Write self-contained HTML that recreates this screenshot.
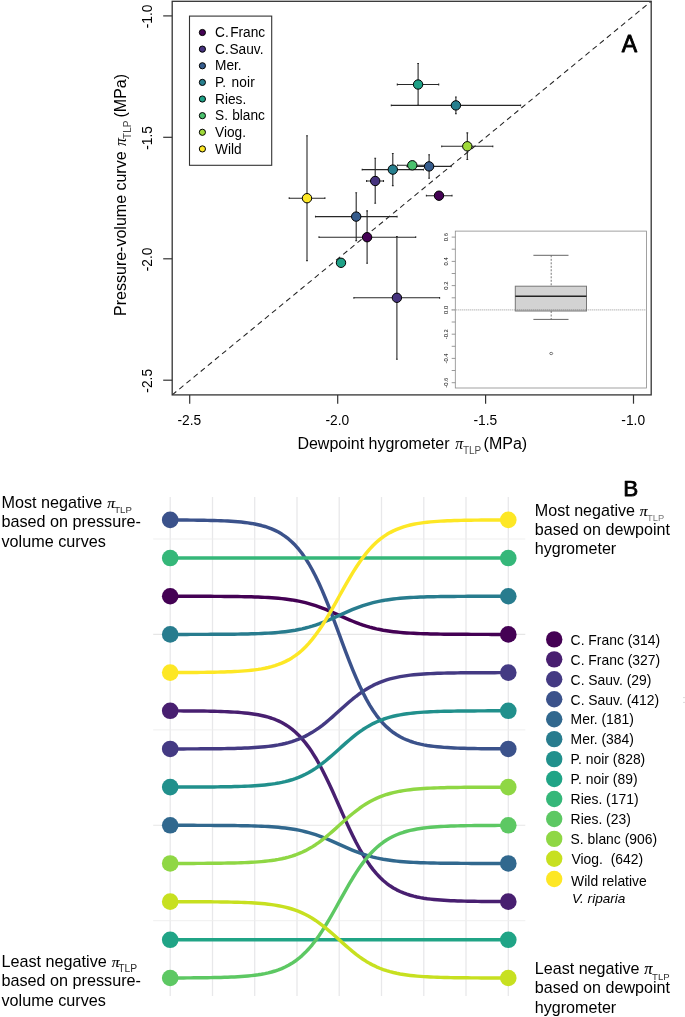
<!DOCTYPE html>
<html lang="en"><head><meta charset="utf-8"><title>Turgor loss point comparison</title>
<style>
html,body{margin:0;padding:0;background:#fff;}
body{width:685px;height:1017px;overflow:hidden;font-family:"Liberation Sans",Arial,sans-serif;}
svg{display:block;position:absolute;left:0;top:0;}
text{font-family:"Liberation Sans",Arial,sans-serif;fill:#000;}
.pi{font-family:"Liberation Serif","DejaVu Serif",serif;font-style:italic;}
.sub{font-size:10px;fill:#4a4a4a;}
.subb{font-size:10.3px;fill:#2a2a2a;}
.pib{font-family:"Liberation Serif","DejaVu Serif",serif;font-style:italic;stroke:#000;stroke-width:0.15;}
.t16b{font-size:16.2px;}
.t14{font-size:13.6px;}
.t14b{font-size:13.9px;}
.t16{font-size:16px;}
.eb{stroke:#282828;stroke-width:1.1;fill:none;}
.pt{stroke:#000;stroke-width:1;}
.grid{stroke:#e8e8ea;stroke-width:1.3;fill:none;}
.gmin{stroke:#ededed;stroke-width:0.9;fill:none;}
.gmaj{stroke:#e6e6e6;stroke-width:1.1;fill:none;}
.bump{fill:none;stroke-width:3.45;stroke-linecap:butt;stroke-linejoin:round;}
</style></head><body>
<svg width="685" height="1017" viewBox="0 0 685 1017">
<rect x="0" y="0" width="685" height="1017" fill="#fff"/>
<g id="panelA">
<line x1="172.2" y1="394.9" x2="651.2" y2="1.3" stroke="#222" stroke-width="1.05" stroke-dasharray="5.32 3.902"/>
<line x1="189.7" y1="394.9" x2="189.7" y2="403.7" stroke="#333" stroke-width="1.2"/>
<text transform="translate(189.39999999999998 425) scale(0.985 1)" font-size="14" text-anchor="middle">-2.5</text>
<line x1="337.7" y1="394.9" x2="337.7" y2="403.7" stroke="#333" stroke-width="1.2"/>
<text transform="translate(337.4 425) scale(0.985 1)" font-size="14" text-anchor="middle">-2.0</text>
<line x1="485.6" y1="394.9" x2="485.6" y2="403.7" stroke="#333" stroke-width="1.2"/>
<text transform="translate(485.3 425) scale(0.985 1)" font-size="14" text-anchor="middle">-1.5</text>
<line x1="633.5" y1="394.9" x2="633.5" y2="403.7" stroke="#333" stroke-width="1.2"/>
<text transform="translate(633.2 425) scale(0.985 1)" font-size="14" text-anchor="middle">-1.0</text>
<line x1="172.2" y1="15.9" x2="163.2" y2="15.9" stroke="#333" stroke-width="1.2"/>
<text transform="translate(152.2 16.5) rotate(-90) scale(0.985 1)" font-size="14" text-anchor="middle">-1.0</text>
<line x1="172.2" y1="137.3" x2="163.2" y2="137.3" stroke="#333" stroke-width="1.2"/>
<text transform="translate(152.2 137.9) rotate(-90) scale(0.985 1)" font-size="14" text-anchor="middle">-1.5</text>
<line x1="172.2" y1="258.8" x2="163.2" y2="258.8" stroke="#333" stroke-width="1.2"/>
<text transform="translate(152.2 259.40000000000003) rotate(-90) scale(0.985 1)" font-size="14" text-anchor="middle">-2.0</text>
<line x1="172.2" y1="380.2" x2="163.2" y2="380.2" stroke="#333" stroke-width="1.2"/>
<text transform="translate(152.2 380.8) rotate(-90) scale(0.985 1)" font-size="14" text-anchor="middle">-2.5</text>
<text class="t16" x="297.4" y="449.3">Dewpoint hygrometer <tspan class="pi" dx="1.4">π</tspan><tspan class="sub" font-size="9.5" dy="4.2" dx="-0.4">TLP</tspan><tspan dy="-4.2" dx="-2.1"> (MPa)</tspan></text>
<text class="t16" transform="translate(126.0 315.9) rotate(-90)">Pressure-volume curve <tspan class="pi" dx="0.9">π</tspan><tspan class="sub" dy="4.5" dx="-0.9">TLP</tspan><tspan dy="-4.5" dx="-1.3"> (MPa)</tspan></text>
<path class="eb" d="M289.2 198.20000000000002H324.9M289.2 197.3V199.10000000000002M324.9 197.3V199.10000000000002M307.0 135.70000000000002V260.6M306.1 135.70000000000002H307.9M306.1 260.6H307.9"/>
<path class="eb" d="M366.6 181.0H383.5M366.6 180.1V181.9M383.5 180.1V181.9M375.2 158.3V203.3M374.3 158.3H376.09999999999997M374.3 203.3H376.09999999999997"/>
<path class="eb" d="M362.2 169.60000000000002H423.5M362.2 168.70000000000002V170.50000000000003M423.5 168.70000000000002V170.50000000000003M392.8 153.5V185.60000000000002M391.90000000000003 153.5H393.7M391.90000000000003 185.60000000000002H393.7"/>
<path class="eb" d="M397.5 165.3H427.1M397.5 164.4V166.20000000000002M427.1 164.4V166.20000000000002"/>
<path class="eb" d="M407.0 166.4H451.2M407.0 165.5V167.3M451.2 165.5V167.3M429.1 154.70000000000002V178.3M428.20000000000005 154.70000000000002H430.0M428.20000000000005 178.3H430.0"/>
<path class="eb" d="M426.4 195.70000000000002H452.0M426.4 194.8V196.60000000000002M452.0 194.8V196.60000000000002"/>
<path class="eb" d="M315.5 216.60000000000002H397.1M315.5 215.70000000000002V217.50000000000003M397.1 215.70000000000002V217.50000000000003M356.2 192.8V240.60000000000002M355.3 192.8H357.09999999999997M355.3 240.60000000000002H357.09999999999997"/>
<path class="eb" d="M319.0 237.20000000000002H415.7M319.0 236.3V238.10000000000002M415.7 236.3V238.10000000000002M367.1 210.9V263.3M366.20000000000005 210.9H368.0M366.20000000000005 263.3H368.0"/>
<path class="eb" d="M353.9 297.8H439.6M353.9 296.90000000000003V298.7M439.6 296.90000000000003V298.7M396.9 236.5V359.3M396.0 236.5H397.79999999999995M396.0 359.3H397.79999999999995"/>
<path class="eb" d="M397.3 84.5H438.7M397.3 83.6V85.4M438.7 83.6V85.4M418.1 63.5V105.39999999999999M417.20000000000005 63.5H419.0M417.20000000000005 105.39999999999999H419.0"/>
<path class="eb" d="M391.3 105.39999999999999H520.6M391.3 104.49999999999999V106.3M520.6 104.49999999999999V106.3M455.9 97.0V113.8M455.0 97.0H456.79999999999995M455.0 113.8H456.79999999999995"/>
<path class="eb" d="M441.7 146.3H492.8M441.7 145.4V147.20000000000002M492.8 145.4V147.20000000000002M467.3 132.9V159.5M466.40000000000003 132.9H468.2M466.40000000000003 159.5H468.2"/>
<circle class="pt" cx="307.0" cy="198.20000000000002" r="4.7" fill="#FDE725"/>
<circle class="pt" cx="375.2" cy="181.0" r="4.7" fill="#46337E"/>
<circle class="pt" cx="392.8" cy="169.60000000000002" r="4.7" fill="#277F8E"/>
<circle class="pt" cx="412.3" cy="165.3" r="4.7" fill="#4AC16D"/>
<circle class="pt" cx="429.1" cy="166.4" r="4.7" fill="#365C8D"/>
<circle class="pt" cx="439.0" cy="195.70000000000002" r="4.7" fill="#440154"/>
<circle class="pt" cx="356.2" cy="216.60000000000002" r="4.7" fill="#365C8D"/>
<circle class="pt" cx="367.1" cy="237.20000000000002" r="4.7" fill="#440154"/>
<circle class="pt" cx="341.0" cy="262.8" r="4.7" fill="#1FA187"/>
<circle class="pt" cx="396.9" cy="297.8" r="4.7" fill="#46337E"/>
<circle class="pt" cx="418.1" cy="84.5" r="4.7" fill="#1FA187"/>
<circle class="pt" cx="455.9" cy="105.39999999999999" r="4.7" fill="#277F8E"/>
<circle class="pt" cx="467.3" cy="146.3" r="4.7" fill="#9FDA3A"/>
<rect x="189.5" y="16.1" width="82.19999999999999" height="149.20000000000002" fill="#fff" stroke="#333" stroke-width="1.1"/>
<circle cx="202.4" cy="32.50" r="3.1" fill="#440154" stroke="#000" stroke-width="1"/>
<text transform="translate(215 37.10) scale(0.972 1)" font-size="14.1">C.<tspan dx="1.5">Franc</tspan></text>
<circle cx="202.4" cy="49.13" r="3.1" fill="#46337E" stroke="#000" stroke-width="1"/>
<text transform="translate(215 53.73) scale(0.972 1)" font-size="14.1">C.<tspan dx="0.8">Sauv.</tspan></text>
<circle cx="202.4" cy="65.76" r="3.1" fill="#365C8D" stroke="#000" stroke-width="1"/>
<text transform="translate(215 70.36) scale(0.972 1)" font-size="14.1">Mer.</text>
<circle cx="202.4" cy="82.39" r="3.1" fill="#277F8E" stroke="#000" stroke-width="1"/>
<text transform="translate(215 86.99) scale(0.972 1)" font-size="14.1">P. <tspan dx="1.5" letter-spacing="0.2">noir</tspan></text>
<circle cx="202.4" cy="99.02" r="3.1" fill="#1FA187" stroke="#000" stroke-width="1"/>
<text transform="translate(215 103.62) scale(0.972 1)" font-size="14.1">Ries.</text>
<circle cx="202.4" cy="115.65" r="3.1" fill="#4AC16D" stroke="#000" stroke-width="1"/>
<text transform="translate(215 120.25) scale(0.972 1)" font-size="14.1">S. <tspan dx="0.4">blanc</tspan></text>
<circle cx="202.4" cy="132.28" r="3.1" fill="#9FDA3A" stroke="#000" stroke-width="1"/>
<text transform="translate(215 136.88) scale(0.972 1)" font-size="14.1">Viog.</text>
<circle cx="202.4" cy="148.91" r="3.1" fill="#FDE725" stroke="#000" stroke-width="1"/>
<text transform="translate(215 153.51) scale(0.972 1)" font-size="14.1">Wild</text>
<text x="621.8" y="51.5" font-size="23.1" stroke="#000" stroke-width="0.8" stroke-linejoin="round">A</text>
<rect x="455.3" y="231.1" width="191.3" height="156.9" fill="#fff" stroke="#8a8a8a" stroke-width="0.8"/>
<line x1="455.3" y1="382.7" x2="451.7" y2="382.7" stroke="#808080" stroke-width="0.8"/>
<text transform="translate(447.8 382.7) rotate(-90)" text-anchor="middle" font-size="5.8" fill="#444">-0.6</text>
<line x1="455.3" y1="370.5" x2="451.7" y2="370.5" stroke="#808080" stroke-width="0.8"/>
<line x1="455.3" y1="358.4" x2="451.7" y2="358.4" stroke="#808080" stroke-width="0.8"/>
<text transform="translate(447.8 358.4) rotate(-90)" text-anchor="middle" font-size="5.8" fill="#444">-0.4</text>
<line x1="455.3" y1="346.3" x2="451.7" y2="346.3" stroke="#808080" stroke-width="0.8"/>
<line x1="455.3" y1="334.2" x2="451.7" y2="334.2" stroke="#808080" stroke-width="0.8"/>
<text transform="translate(447.8 334.2) rotate(-90)" text-anchor="middle" font-size="5.8" fill="#444">-0.2</text>
<line x1="455.3" y1="322.0" x2="451.7" y2="322.0" stroke="#808080" stroke-width="0.8"/>
<line x1="455.3" y1="309.9" x2="451.7" y2="309.9" stroke="#808080" stroke-width="0.8"/>
<text transform="translate(447.8 309.9) rotate(-90)" text-anchor="middle" font-size="5.8" fill="#444">0.0</text>
<line x1="455.3" y1="297.8" x2="451.7" y2="297.8" stroke="#808080" stroke-width="0.8"/>
<line x1="455.3" y1="285.6" x2="451.7" y2="285.6" stroke="#808080" stroke-width="0.8"/>
<text transform="translate(447.8 285.6) rotate(-90)" text-anchor="middle" font-size="5.8" fill="#444">0.2</text>
<line x1="455.3" y1="273.5" x2="451.7" y2="273.5" stroke="#808080" stroke-width="0.8"/>
<line x1="455.3" y1="261.4" x2="451.7" y2="261.4" stroke="#808080" stroke-width="0.8"/>
<text transform="translate(447.8 261.4) rotate(-90)" text-anchor="middle" font-size="5.8" fill="#444">0.4</text>
<line x1="455.3" y1="249.2" x2="451.7" y2="249.2" stroke="#808080" stroke-width="0.8"/>
<line x1="455.3" y1="237.1" x2="451.7" y2="237.1" stroke="#808080" stroke-width="0.8"/>
<text transform="translate(447.8 237.1) rotate(-90)" text-anchor="middle" font-size="5.8" fill="#444">0.6</text>
<line x1="451.7" y1="309.9" x2="646.6" y2="309.9" stroke="#aaa" stroke-width="1.2" stroke-dasharray="1 1"/>
<line x1="551.2" y1="255.3" x2="551.2" y2="286.2" stroke="#777" stroke-width="1" stroke-dasharray="2 1.5"/>
<line x1="551.2" y1="311" x2="551.2" y2="319.4" stroke="#777" stroke-width="1" stroke-dasharray="2 1.5"/>
<line x1="533.4" y1="255.3" x2="568.5" y2="255.3" stroke="#666" stroke-width="1"/>
<line x1="533.4" y1="319.4" x2="568.5" y2="319.4" stroke="#666" stroke-width="1"/>
<rect x="515.3" y="286.2" width="71.20000000000005" height="24.80000000000001" fill="#d3d3d3" stroke="#777" stroke-width="1"/>
<line x1="515.3" y1="296.2" x2="586.5" y2="296.2" stroke="#222" stroke-width="1.6"/>
<line x1="515.3" y1="309.9" x2="586.5" y2="309.9" stroke="#888" stroke-width="1.2" stroke-dasharray="1 1"/>
<ellipse cx="551.2" cy="353.5" rx="1.5" ry="1.15" fill="none" stroke="#444" stroke-width="0.7"/>
<rect x="172.2" y="1.3" width="479.00000000000006" height="393.59999999999997" fill="none" stroke="#333" stroke-width="1.3"/>
</g>
<g id="panelB">
<line class="grid" x1="170.2" y1="497.0" x2="170.2" y2="996.0"/>
<line class="grid" x1="212.5" y1="497.0" x2="212.5" y2="996.0"/>
<line class="grid" x1="254.7" y1="497.0" x2="254.7" y2="996.0"/>
<line class="grid" x1="297.0" y1="497.0" x2="297.0" y2="996.0"/>
<line class="grid" x1="339.2" y1="497.0" x2="339.2" y2="996.0"/>
<line class="grid" x1="381.5" y1="497.0" x2="381.5" y2="996.0"/>
<line class="grid" x1="423.8" y1="497.0" x2="423.8" y2="996.0"/>
<line class="grid" x1="466.0" y1="497.0" x2="466.0" y2="996.0"/>
<line class="grid" x1="508.3" y1="497.0" x2="508.3" y2="996.0"/>
<line class="gmin" x1="153.2" y1="539.0" x2="525.3" y2="539.0"/>
<line class="gmaj" x1="153.2" y1="634.4" x2="525.3" y2="634.4"/>
<line class="gmin" x1="153.2" y1="729.9" x2="525.3" y2="729.9"/>
<line class="gmaj" x1="153.2" y1="825.3" x2="525.3" y2="825.3"/>
<line class="gmin" x1="153.2" y1="920.7" x2="525.3" y2="920.7"/>
<path class="bump" stroke="#440154" d="M170.20 596.26 L173.58 596.27 L176.96 596.27 L180.34 596.27 L183.72 596.27 L187.10 596.28 L190.49 596.28 L193.87 596.29 L197.25 596.30 L200.63 596.30 L204.01 596.31 L207.39 596.32 L210.77 596.34 L214.15 596.35 L217.53 596.37 L220.91 596.39 L224.30 596.41 L227.68 596.44 L231.06 596.48 L234.44 596.52 L237.82 596.56 L241.20 596.62 L244.58 596.68 L247.96 596.75 L251.34 596.84 L254.72 596.94 L258.11 597.05 L261.49 597.19 L264.87 597.35 L268.25 597.53 L271.63 597.75 L275.01 597.99 L278.39 598.28 L281.77 598.61 L285.15 598.99 L288.53 599.43 L291.92 599.92 L295.30 600.49 L298.68 601.13 L302.06 601.85 L305.44 602.66 L308.82 603.56 L312.20 604.55 L315.58 605.64 L318.96 606.82 L322.35 608.09 L325.73 609.43 L329.11 610.84 L332.49 612.31 L335.87 613.81 L339.25 615.34 L342.63 616.86 L346.01 618.37 L349.39 619.83 L352.77 621.25 L356.16 622.59 L359.54 623.86 L362.92 625.03 L366.30 626.12 L369.68 627.11 L373.06 628.01 L376.44 628.82 L379.82 629.54 L383.20 630.19 L386.58 630.75 L389.97 631.25 L393.35 631.69 L396.73 632.07 L400.11 632.40 L403.49 632.68 L406.87 632.93 L410.25 633.14 L413.63 633.33 L417.01 633.49 L420.39 633.62 L423.77 633.74 L427.16 633.84 L430.54 633.92 L433.92 634.00 L437.30 634.06 L440.68 634.11 L444.06 634.16 L447.44 634.20 L450.82 634.23 L454.20 634.26 L457.58 634.28 L460.97 634.31 L464.35 634.32 L467.73 634.34 L471.11 634.35 L474.49 634.36 L477.87 634.37 L481.25 634.38 L484.63 634.39 L488.01 634.39 L491.39 634.40 L494.78 634.40 L498.16 634.40 L501.54 634.41 L504.92 634.41 L508.30 634.41"/>
<path class="bump" stroke="#481F70" d="M170.20 710.84 L173.58 710.85 L176.96 710.86 L180.34 710.88 L183.72 710.90 L187.10 710.92 L190.49 710.94 L193.87 710.97 L197.25 711.01 L200.63 711.04 L204.01 711.09 L207.39 711.15 L210.77 711.21 L214.15 711.29 L217.53 711.37 L220.91 711.48 L224.30 711.60 L227.68 711.74 L231.06 711.91 L234.44 712.10 L237.82 712.33 L241.20 712.60 L244.58 712.91 L247.96 713.28 L251.34 713.71 L254.72 714.21 L258.11 714.79 L261.49 715.47 L264.87 716.26 L268.25 717.18 L271.63 718.25 L275.01 719.49 L278.39 720.92 L281.77 722.57 L285.15 724.47 L288.53 726.65 L291.92 729.14 L295.30 731.97 L298.68 735.18 L302.06 738.79 L305.44 742.84 L308.82 747.34 L312.20 752.30 L315.58 757.73 L318.96 763.62 L322.35 769.95 L325.73 776.67 L329.11 783.74 L332.49 791.07 L335.87 798.59 L339.25 806.21 L342.63 813.83 L346.01 821.35 L349.39 828.69 L352.77 835.75 L356.16 842.47 L359.54 848.80 L362.92 854.69 L366.30 860.13 L369.68 865.09 L373.06 869.59 L376.44 873.63 L379.82 877.24 L383.20 880.45 L386.58 883.28 L389.97 885.77 L393.35 887.95 L396.73 889.85 L400.11 891.50 L403.49 892.94 L406.87 894.17 L410.25 895.24 L413.63 896.16 L417.01 896.95 L420.39 897.63 L423.77 898.22 L427.16 898.72 L430.54 899.14 L433.92 899.51 L437.30 899.82 L440.68 900.09 L444.06 900.32 L447.44 900.52 L450.82 900.68 L454.20 900.83 L457.58 900.95 L460.97 901.05 L464.35 901.14 L467.73 901.21 L471.11 901.28 L474.49 901.33 L477.87 901.38 L481.25 901.42 L484.63 901.45 L488.01 901.48 L491.39 901.51 L494.78 901.53 L498.16 901.55 L501.54 901.56 L504.92 901.57 L508.30 901.59"/>
<path class="bump" stroke="#443A83" d="M170.20 748.92 L173.58 748.92 L176.96 748.91 L180.34 748.91 L183.72 748.90 L187.10 748.89 L190.49 748.88 L193.87 748.87 L197.25 748.86 L200.63 748.84 L204.01 748.82 L207.39 748.80 L210.77 748.78 L214.15 748.75 L217.53 748.71 L220.91 748.67 L224.30 748.62 L227.68 748.56 L231.06 748.50 L234.44 748.42 L237.82 748.33 L241.20 748.22 L244.58 748.09 L247.96 747.95 L251.34 747.78 L254.72 747.58 L258.11 747.34 L261.49 747.07 L264.87 746.76 L268.25 746.39 L271.63 745.96 L275.01 745.46 L278.39 744.89 L281.77 744.23 L285.15 743.47 L288.53 742.60 L291.92 741.60 L295.30 740.47 L298.68 739.19 L302.06 737.74 L305.44 736.12 L308.82 734.33 L312.20 732.34 L315.58 730.17 L318.96 727.81 L322.35 725.28 L325.73 722.59 L329.11 719.77 L332.49 716.83 L335.87 713.82 L339.25 710.77 L342.63 707.73 L346.01 704.72 L349.39 701.78 L352.77 698.96 L356.16 696.27 L359.54 693.74 L362.92 691.38 L366.30 689.21 L369.68 687.22 L373.06 685.43 L376.44 683.81 L379.82 682.36 L383.20 681.08 L386.58 679.95 L389.97 678.95 L393.35 678.08 L396.73 677.32 L400.11 676.66 L403.49 676.09 L406.87 675.59 L410.25 675.16 L413.63 674.79 L417.01 674.48 L420.39 674.21 L423.77 673.97 L427.16 673.77 L430.54 673.60 L433.92 673.46 L437.30 673.33 L440.68 673.22 L444.06 673.13 L447.44 673.05 L450.82 672.99 L454.20 672.93 L457.58 672.88 L460.97 672.84 L464.35 672.80 L467.73 672.77 L471.11 672.75 L474.49 672.73 L477.87 672.71 L481.25 672.69 L484.63 672.68 L488.01 672.67 L491.39 672.66 L494.78 672.65 L498.16 672.64 L501.54 672.64 L504.92 672.63 L508.30 672.63"/>
<path class="bump" stroke="#3B528B" d="M170.20 519.98 L173.58 519.99 L176.96 520.01 L180.34 520.02 L183.72 520.05 L187.10 520.07 L190.49 520.10 L193.87 520.14 L197.25 520.18 L200.63 520.22 L204.01 520.28 L207.39 520.35 L210.77 520.42 L214.15 520.51 L217.53 520.62 L220.91 520.74 L224.30 520.89 L227.68 521.06 L231.06 521.26 L234.44 521.50 L237.82 521.77 L241.20 522.09 L244.58 522.47 L247.96 522.91 L251.34 523.42 L254.72 524.02 L258.11 524.72 L261.49 525.54 L264.87 526.48 L268.25 527.59 L271.63 528.87 L275.01 530.36 L278.39 532.07 L281.77 534.06 L285.15 536.34 L288.53 538.95 L291.92 541.94 L295.30 545.34 L298.68 549.19 L302.06 553.52 L305.44 558.38 L308.82 563.77 L312.20 569.73 L315.58 576.25 L318.96 583.32 L322.35 590.91 L325.73 598.98 L329.11 607.45 L332.49 616.26 L335.87 625.28 L339.25 634.42 L342.63 643.57 L346.01 652.59 L349.39 661.40 L352.77 669.87 L356.16 677.94 L359.54 685.53 L362.92 692.60 L366.30 699.12 L369.68 705.08 L373.06 710.47 L376.44 715.33 L379.82 719.66 L383.20 723.51 L386.58 726.91 L389.97 729.90 L393.35 732.51 L396.73 734.79 L400.11 736.78 L403.49 738.49 L406.87 739.98 L410.25 741.26 L413.63 742.37 L417.01 743.31 L420.39 744.13 L423.77 744.83 L427.16 745.43 L430.54 745.94 L433.92 746.38 L437.30 746.76 L440.68 747.08 L444.06 747.35 L447.44 747.59 L450.82 747.79 L454.20 747.96 L457.58 748.11 L460.97 748.23 L464.35 748.34 L467.73 748.43 L471.11 748.50 L474.49 748.57 L477.87 748.63 L481.25 748.67 L484.63 748.71 L488.01 748.75 L491.39 748.78 L494.78 748.80 L498.16 748.83 L501.54 748.84 L504.92 748.86 L508.30 748.87"/>
<path class="bump" stroke="#31688E" d="M170.20 825.31 L173.58 825.32 L176.96 825.32 L180.34 825.32 L183.72 825.32 L187.10 825.33 L190.49 825.33 L193.87 825.34 L197.25 825.35 L200.63 825.35 L204.01 825.36 L207.39 825.37 L210.77 825.39 L214.15 825.40 L217.53 825.42 L220.91 825.44 L224.30 825.46 L227.68 825.49 L231.06 825.53 L234.44 825.57 L237.82 825.61 L241.20 825.67 L244.58 825.73 L247.96 825.80 L251.34 825.89 L254.72 825.99 L258.11 826.10 L261.49 826.24 L264.87 826.40 L268.25 826.58 L271.63 826.80 L275.01 827.04 L278.39 827.33 L281.77 827.66 L285.15 828.04 L288.53 828.48 L291.92 828.97 L295.30 829.54 L298.68 830.18 L302.06 830.90 L305.44 831.71 L308.82 832.61 L312.20 833.60 L315.58 834.69 L318.96 835.87 L322.35 837.14 L325.73 838.48 L329.11 839.89 L332.49 841.36 L335.87 842.86 L339.25 844.39 L342.63 845.91 L346.01 847.42 L349.39 848.88 L352.77 850.30 L356.16 851.64 L359.54 852.91 L362.92 854.08 L366.30 855.17 L369.68 856.16 L373.06 857.06 L376.44 857.87 L379.82 858.59 L383.20 859.24 L386.58 859.80 L389.97 860.30 L393.35 860.74 L396.73 861.12 L400.11 861.45 L403.49 861.73 L406.87 861.98 L410.25 862.19 L413.63 862.38 L417.01 862.54 L420.39 862.67 L423.77 862.79 L427.16 862.89 L430.54 862.97 L433.92 863.05 L437.30 863.11 L440.68 863.16 L444.06 863.21 L447.44 863.25 L450.82 863.28 L454.20 863.31 L457.58 863.33 L460.97 863.36 L464.35 863.37 L467.73 863.39 L471.11 863.40 L474.49 863.41 L477.87 863.42 L481.25 863.43 L484.63 863.44 L488.01 863.44 L491.39 863.45 L494.78 863.45 L498.16 863.45 L501.54 863.46 L504.92 863.46 L508.30 863.46"/>
<path class="bump" stroke="#287C8E" d="M170.20 634.41 L173.58 634.41 L176.96 634.41 L180.34 634.40 L183.72 634.40 L187.10 634.40 L190.49 634.39 L193.87 634.39 L197.25 634.38 L200.63 634.37 L204.01 634.36 L207.39 634.35 L210.77 634.34 L214.15 634.32 L217.53 634.31 L220.91 634.28 L224.30 634.26 L227.68 634.23 L231.06 634.20 L234.44 634.16 L237.82 634.11 L241.20 634.06 L244.58 634.00 L247.96 633.92 L251.34 633.84 L254.72 633.74 L258.11 633.62 L261.49 633.49 L264.87 633.33 L268.25 633.14 L271.63 632.93 L275.01 632.68 L278.39 632.40 L281.77 632.07 L285.15 631.69 L288.53 631.25 L291.92 630.75 L295.30 630.19 L298.68 629.54 L302.06 628.82 L305.44 628.01 L308.82 627.11 L312.20 626.12 L315.58 625.03 L318.96 623.86 L322.35 622.59 L325.73 621.25 L329.11 619.83 L332.49 618.37 L335.87 616.86 L339.25 615.34 L342.63 613.81 L346.01 612.31 L349.39 610.84 L352.77 609.43 L356.16 608.09 L359.54 606.82 L362.92 605.64 L366.30 604.55 L369.68 603.56 L373.06 602.66 L376.44 601.85 L379.82 601.13 L383.20 600.49 L386.58 599.92 L389.97 599.43 L393.35 598.99 L396.73 598.61 L400.11 598.28 L403.49 597.99 L406.87 597.75 L410.25 597.53 L413.63 597.35 L417.01 597.19 L420.39 597.05 L423.77 596.94 L427.16 596.84 L430.54 596.75 L433.92 596.68 L437.30 596.62 L440.68 596.56 L444.06 596.52 L447.44 596.48 L450.82 596.44 L454.20 596.41 L457.58 596.39 L460.97 596.37 L464.35 596.35 L467.73 596.34 L471.11 596.32 L474.49 596.31 L477.87 596.30 L481.25 596.30 L484.63 596.29 L488.01 596.28 L491.39 596.28 L494.78 596.27 L498.16 596.27 L501.54 596.27 L504.92 596.27 L508.30 596.26"/>
<path class="bump" stroke="#21908C" d="M170.20 787.10 L173.58 787.09 L176.96 787.09 L180.34 787.08 L183.72 787.08 L187.10 787.07 L190.49 787.06 L193.87 787.05 L197.25 787.03 L200.63 787.02 L204.01 787.00 L207.39 786.98 L210.77 786.95 L214.15 786.92 L217.53 786.89 L220.91 786.84 L224.30 786.80 L227.68 786.74 L231.06 786.67 L234.44 786.59 L237.82 786.50 L241.20 786.39 L244.58 786.27 L247.96 786.12 L251.34 785.95 L254.72 785.75 L258.11 785.52 L261.49 785.25 L264.87 784.93 L268.25 784.56 L271.63 784.13 L275.01 783.64 L278.39 783.07 L281.77 782.41 L285.15 781.65 L288.53 780.77 L291.92 779.78 L295.30 778.65 L298.68 777.36 L302.06 775.92 L305.44 774.30 L308.82 772.50 L312.20 770.52 L315.58 768.34 L318.96 765.99 L322.35 763.45 L325.73 760.77 L329.11 757.94 L332.49 755.01 L335.87 752.00 L339.25 748.95 L342.63 745.90 L346.01 742.89 L349.39 739.96 L352.77 737.13 L356.16 734.45 L359.54 731.91 L362.92 729.56 L366.30 727.38 L369.68 725.40 L373.06 723.60 L376.44 721.98 L379.82 720.54 L383.20 719.25 L386.58 718.12 L389.97 717.13 L393.35 716.25 L396.73 715.49 L400.11 714.83 L403.49 714.26 L406.87 713.77 L410.25 713.34 L413.63 712.97 L417.01 712.65 L420.39 712.38 L423.77 712.15 L427.16 711.95 L430.54 711.78 L433.92 711.63 L437.30 711.51 L440.68 711.40 L444.06 711.31 L447.44 711.23 L450.82 711.16 L454.20 711.10 L457.58 711.06 L460.97 711.01 L464.35 710.98 L467.73 710.95 L471.11 710.92 L474.49 710.90 L477.87 710.88 L481.25 710.87 L484.63 710.85 L488.01 710.84 L491.39 710.83 L494.78 710.82 L498.16 710.82 L501.54 710.81 L504.92 710.81 L508.30 710.80"/>
<path class="bump" stroke="#20A486" d="M170.20 939.82 L173.58 939.82 L176.96 939.82 L180.34 939.82 L183.72 939.82 L187.10 939.82 L190.49 939.82 L193.87 939.82 L197.25 939.82 L200.63 939.82 L204.01 939.82 L207.39 939.82 L210.77 939.82 L214.15 939.82 L217.53 939.82 L220.91 939.82 L224.30 939.82 L227.68 939.82 L231.06 939.82 L234.44 939.82 L237.82 939.82 L241.20 939.82 L244.58 939.82 L247.96 939.82 L251.34 939.82 L254.72 939.82 L258.11 939.82 L261.49 939.82 L264.87 939.82 L268.25 939.82 L271.63 939.82 L275.01 939.82 L278.39 939.82 L281.77 939.82 L285.15 939.82 L288.53 939.82 L291.92 939.82 L295.30 939.82 L298.68 939.82 L302.06 939.82 L305.44 939.82 L308.82 939.82 L312.20 939.82 L315.58 939.82 L318.96 939.82 L322.35 939.82 L325.73 939.82 L329.11 939.82 L332.49 939.82 L335.87 939.82 L339.25 939.82 L342.63 939.82 L346.01 939.82 L349.39 939.82 L352.77 939.82 L356.16 939.82 L359.54 939.82 L362.92 939.82 L366.30 939.82 L369.68 939.82 L373.06 939.82 L376.44 939.82 L379.82 939.82 L383.20 939.82 L386.58 939.82 L389.97 939.82 L393.35 939.82 L396.73 939.82 L400.11 939.82 L403.49 939.82 L406.87 939.82 L410.25 939.82 L413.63 939.82 L417.01 939.82 L420.39 939.82 L423.77 939.82 L427.16 939.82 L430.54 939.82 L433.92 939.82 L437.30 939.82 L440.68 939.82 L444.06 939.82 L447.44 939.82 L450.82 939.82 L454.20 939.82 L457.58 939.82 L460.97 939.82 L464.35 939.82 L467.73 939.82 L471.11 939.82 L474.49 939.82 L477.87 939.82 L481.25 939.82 L484.63 939.82 L488.01 939.82 L491.39 939.82 L494.78 939.82 L498.16 939.82 L501.54 939.82 L504.92 939.82 L508.30 939.82"/>
<path class="bump" stroke="#35B779" d="M170.20 558.07 L173.58 558.07 L176.96 558.07 L180.34 558.07 L183.72 558.07 L187.10 558.07 L190.49 558.07 L193.87 558.07 L197.25 558.07 L200.63 558.07 L204.01 558.07 L207.39 558.07 L210.77 558.07 L214.15 558.07 L217.53 558.07 L220.91 558.07 L224.30 558.07 L227.68 558.07 L231.06 558.07 L234.44 558.07 L237.82 558.07 L241.20 558.07 L244.58 558.07 L247.96 558.07 L251.34 558.07 L254.72 558.07 L258.11 558.07 L261.49 558.07 L264.87 558.07 L268.25 558.07 L271.63 558.07 L275.01 558.07 L278.39 558.07 L281.77 558.07 L285.15 558.07 L288.53 558.07 L291.92 558.07 L295.30 558.07 L298.68 558.07 L302.06 558.07 L305.44 558.07 L308.82 558.07 L312.20 558.07 L315.58 558.07 L318.96 558.07 L322.35 558.07 L325.73 558.07 L329.11 558.07 L332.49 558.07 L335.87 558.07 L339.25 558.07 L342.63 558.07 L346.01 558.07 L349.39 558.07 L352.77 558.07 L356.16 558.07 L359.54 558.07 L362.92 558.07 L366.30 558.07 L369.68 558.07 L373.06 558.07 L376.44 558.07 L379.82 558.07 L383.20 558.07 L386.58 558.07 L389.97 558.07 L393.35 558.07 L396.73 558.07 L400.11 558.07 L403.49 558.07 L406.87 558.07 L410.25 558.07 L413.63 558.07 L417.01 558.07 L420.39 558.07 L423.77 558.07 L427.16 558.07 L430.54 558.07 L433.92 558.07 L437.30 558.07 L440.68 558.07 L444.06 558.07 L447.44 558.07 L450.82 558.07 L454.20 558.07 L457.58 558.07 L460.97 558.07 L464.35 558.07 L467.73 558.07 L471.11 558.07 L474.49 558.07 L477.87 558.07 L481.25 558.07 L484.63 558.07 L488.01 558.07 L491.39 558.07 L494.78 558.07 L498.16 558.07 L501.54 558.07 L504.92 558.07 L508.30 558.07"/>
<path class="bump" stroke="#5DC863" d="M170.20 977.95 L173.58 977.94 L176.96 977.93 L180.34 977.92 L183.72 977.90 L187.10 977.89 L190.49 977.87 L193.87 977.84 L197.25 977.82 L200.63 977.78 L204.01 977.75 L207.39 977.70 L210.77 977.65 L214.15 977.59 L217.53 977.52 L220.91 977.44 L224.30 977.34 L227.68 977.23 L231.06 977.09 L234.44 976.94 L237.82 976.75 L241.20 976.54 L244.58 976.29 L247.96 976.00 L251.34 975.65 L254.72 975.25 L258.11 974.79 L261.49 974.24 L264.87 973.61 L268.25 972.87 L271.63 972.02 L275.01 971.03 L278.39 969.88 L281.77 968.56 L285.15 967.04 L288.53 965.30 L291.92 963.31 L295.30 961.04 L298.68 958.48 L302.06 955.59 L305.44 952.35 L308.82 948.75 L312.20 944.78 L315.58 940.43 L318.96 935.72 L322.35 930.66 L325.73 925.28 L329.11 919.63 L332.49 913.76 L335.87 907.75 L339.25 901.65 L342.63 895.55 L346.01 889.54 L349.39 883.67 L352.77 878.02 L356.16 872.64 L359.54 867.58 L362.92 862.87 L366.30 858.52 L369.68 854.55 L373.06 850.95 L376.44 847.71 L379.82 844.82 L383.20 842.26 L386.58 839.99 L389.97 838.00 L393.35 836.26 L396.73 834.74 L400.11 833.42 L403.49 832.27 L406.87 831.28 L410.25 830.43 L413.63 829.69 L417.01 829.06 L420.39 828.51 L423.77 828.05 L427.16 827.65 L430.54 827.30 L433.92 827.01 L437.30 826.76 L440.68 826.55 L444.06 826.36 L447.44 826.21 L450.82 826.07 L454.20 825.96 L457.58 825.86 L460.97 825.78 L464.35 825.71 L467.73 825.65 L471.11 825.60 L474.49 825.55 L477.87 825.52 L481.25 825.48 L484.63 825.46 L488.01 825.43 L491.39 825.41 L494.78 825.40 L498.16 825.38 L501.54 825.37 L504.92 825.36 L508.30 825.35"/>
<path class="bump" stroke="#8FD744" d="M170.20 863.45 L173.58 863.44 L176.96 863.44 L180.34 863.43 L183.72 863.43 L187.10 863.42 L190.49 863.41 L193.87 863.40 L197.25 863.38 L200.63 863.37 L204.01 863.35 L207.39 863.33 L210.77 863.30 L214.15 863.27 L217.53 863.24 L220.91 863.19 L224.30 863.15 L227.68 863.09 L231.06 863.02 L234.44 862.94 L237.82 862.85 L241.20 862.74 L244.58 862.62 L247.96 862.47 L251.34 862.30 L254.72 862.10 L258.11 861.87 L261.49 861.60 L264.87 861.28 L268.25 860.91 L271.63 860.48 L275.01 859.99 L278.39 859.42 L281.77 858.76 L285.15 858.00 L288.53 857.12 L291.92 856.13 L295.30 855.00 L298.68 853.71 L302.06 852.27 L305.44 850.65 L308.82 848.85 L312.20 846.87 L315.58 844.69 L318.96 842.34 L322.35 839.80 L325.73 837.12 L329.11 834.29 L332.49 831.36 L335.87 828.35 L339.25 825.30 L342.63 822.25 L346.01 819.24 L349.39 816.31 L352.77 813.48 L356.16 810.80 L359.54 808.26 L362.92 805.91 L366.30 803.73 L369.68 801.75 L373.06 799.95 L376.44 798.33 L379.82 796.89 L383.20 795.60 L386.58 794.47 L389.97 793.48 L393.35 792.60 L396.73 791.84 L400.11 791.18 L403.49 790.61 L406.87 790.12 L410.25 789.69 L413.63 789.32 L417.01 789.00 L420.39 788.73 L423.77 788.50 L427.16 788.30 L430.54 788.13 L433.92 787.98 L437.30 787.86 L440.68 787.75 L444.06 787.66 L447.44 787.58 L450.82 787.51 L454.20 787.45 L457.58 787.41 L460.97 787.36 L464.35 787.33 L467.73 787.30 L471.11 787.27 L474.49 787.25 L477.87 787.23 L481.25 787.22 L484.63 787.20 L488.01 787.19 L491.39 787.18 L494.78 787.17 L498.16 787.17 L501.54 787.16 L504.92 787.16 L508.30 787.15"/>
<path class="bump" stroke="#C7E020" d="M170.20 901.68 L173.58 901.68 L176.96 901.69 L180.34 901.69 L183.72 901.70 L187.10 901.71 L190.49 901.72 L193.87 901.73 L197.25 901.74 L200.63 901.76 L204.01 901.78 L207.39 901.80 L210.77 901.82 L214.15 901.85 L217.53 901.89 L220.91 901.93 L224.30 901.98 L227.68 902.04 L231.06 902.10 L234.44 902.18 L237.82 902.27 L241.20 902.38 L244.58 902.51 L247.96 902.65 L251.34 902.82 L254.72 903.02 L258.11 903.26 L261.49 903.53 L264.87 903.84 L268.25 904.21 L271.63 904.64 L275.01 905.14 L278.39 905.71 L281.77 906.37 L285.15 907.13 L288.53 908.00 L291.92 909.00 L295.30 910.13 L298.68 911.41 L302.06 912.86 L305.44 914.48 L308.82 916.27 L312.20 918.26 L315.58 920.43 L318.96 922.79 L322.35 925.32 L325.73 928.01 L329.11 930.83 L332.49 933.77 L335.87 936.78 L339.25 939.83 L342.63 942.87 L346.01 945.88 L349.39 948.82 L352.77 951.64 L356.16 954.33 L359.54 956.86 L362.92 959.22 L366.30 961.39 L369.68 963.38 L373.06 965.17 L376.44 966.79 L379.82 968.24 L383.20 969.52 L386.58 970.65 L389.97 971.65 L393.35 972.52 L396.73 973.28 L400.11 973.94 L403.49 974.51 L406.87 975.01 L410.25 975.44 L413.63 975.81 L417.01 976.12 L420.39 976.39 L423.77 976.63 L427.16 976.83 L430.54 977.00 L433.92 977.14 L437.30 977.27 L440.68 977.38 L444.06 977.47 L447.44 977.55 L450.82 977.61 L454.20 977.67 L457.58 977.72 L460.97 977.76 L464.35 977.80 L467.73 977.83 L471.11 977.85 L474.49 977.87 L477.87 977.89 L481.25 977.91 L484.63 977.92 L488.01 977.93 L491.39 977.94 L494.78 977.95 L498.16 977.96 L501.54 977.96 L504.92 977.97 L508.30 977.97"/>
<path class="bump" stroke="#FDE725" d="M170.20 672.55 L173.58 672.54 L176.96 672.53 L180.34 672.52 L183.72 672.50 L187.10 672.49 L190.49 672.47 L193.87 672.44 L197.25 672.42 L200.63 672.38 L204.01 672.35 L207.39 672.30 L210.77 672.25 L214.15 672.19 L217.53 672.12 L220.91 672.04 L224.30 671.94 L227.68 671.83 L231.06 671.69 L234.44 671.54 L237.82 671.35 L241.20 671.14 L244.58 670.89 L247.96 670.60 L251.34 670.25 L254.72 669.85 L258.11 669.39 L261.49 668.84 L264.87 668.21 L268.25 667.47 L271.63 666.62 L275.01 665.63 L278.39 664.48 L281.77 663.16 L285.15 661.64 L288.53 659.90 L291.92 657.91 L295.30 655.64 L298.68 653.08 L302.06 650.19 L305.44 646.95 L308.82 643.35 L312.20 639.38 L315.58 635.03 L318.96 630.32 L322.35 625.26 L325.73 619.88 L329.11 614.23 L332.49 608.36 L335.87 602.35 L339.25 596.25 L342.63 590.15 L346.01 584.14 L349.39 578.27 L352.77 572.62 L356.16 567.24 L359.54 562.18 L362.92 557.47 L366.30 553.12 L369.68 549.15 L373.06 545.55 L376.44 542.31 L379.82 539.42 L383.20 536.86 L386.58 534.59 L389.97 532.60 L393.35 530.86 L396.73 529.34 L400.11 528.02 L403.49 526.87 L406.87 525.88 L410.25 525.03 L413.63 524.29 L417.01 523.66 L420.39 523.11 L423.77 522.65 L427.16 522.25 L430.54 521.90 L433.92 521.61 L437.30 521.36 L440.68 521.15 L444.06 520.96 L447.44 520.81 L450.82 520.67 L454.20 520.56 L457.58 520.46 L460.97 520.38 L464.35 520.31 L467.73 520.25 L471.11 520.20 L474.49 520.15 L477.87 520.12 L481.25 520.08 L484.63 520.06 L488.01 520.03 L491.39 520.01 L494.78 520.00 L498.16 519.98 L501.54 519.97 L504.92 519.96 L508.30 519.95"/>
<circle cx="170.2" cy="596.25" r="8.3" fill="#440154"/>
<circle cx="508.3" cy="634.42" r="8.3" fill="#440154"/>
<circle cx="170.2" cy="710.77" r="8.3" fill="#481F70"/>
<circle cx="508.3" cy="901.65" r="8.3" fill="#481F70"/>
<circle cx="170.2" cy="748.95" r="8.3" fill="#443A83"/>
<circle cx="508.3" cy="672.60" r="8.3" fill="#443A83"/>
<circle cx="170.2" cy="519.90" r="8.3" fill="#3B528B"/>
<circle cx="508.3" cy="748.95" r="8.3" fill="#3B528B"/>
<circle cx="170.2" cy="825.30" r="8.3" fill="#31688E"/>
<circle cx="508.3" cy="863.47" r="8.3" fill="#31688E"/>
<circle cx="170.2" cy="634.42" r="8.3" fill="#287C8E"/>
<circle cx="508.3" cy="596.25" r="8.3" fill="#287C8E"/>
<circle cx="170.2" cy="787.12" r="8.3" fill="#21908C"/>
<circle cx="508.3" cy="710.77" r="8.3" fill="#21908C"/>
<circle cx="170.2" cy="939.82" r="8.3" fill="#20A486"/>
<circle cx="508.3" cy="939.82" r="8.3" fill="#20A486"/>
<circle cx="170.2" cy="558.07" r="8.3" fill="#35B779"/>
<circle cx="508.3" cy="558.07" r="8.3" fill="#35B779"/>
<circle cx="170.2" cy="978.00" r="8.3" fill="#5DC863"/>
<circle cx="508.3" cy="825.30" r="8.3" fill="#5DC863"/>
<circle cx="170.2" cy="863.47" r="8.3" fill="#8FD744"/>
<circle cx="508.3" cy="787.12" r="8.3" fill="#8FD744"/>
<circle cx="170.2" cy="901.65" r="8.3" fill="#C7E020"/>
<circle cx="508.3" cy="978.00" r="8.3" fill="#C7E020"/>
<circle cx="170.2" cy="672.60" r="8.3" fill="#FDE725"/>
<circle cx="508.3" cy="519.90" r="8.3" fill="#FDE725"/>
<circle cx="554.2" cy="639.40" r="8.2" fill="#440154"/>
<text class="t14b" x="570.6" y="644.65">C. Franc (314)</text>
<circle cx="554.2" cy="659.35" r="8.2" fill="#481F70"/>
<text class="t14b" x="570.6" y="664.60">C. Franc (327)</text>
<circle cx="554.2" cy="679.30" r="8.2" fill="#443A83"/>
<text class="t14b" x="570.6" y="684.55">C. Sauv. (29)</text>
<circle cx="554.2" cy="699.25" r="8.2" fill="#3B528B"/>
<text class="t14b" x="570.6" y="704.50">C. Sauv. (412)</text>
<circle cx="554.2" cy="719.20" r="8.2" fill="#31688E"/>
<text class="t14b" x="570.6" y="724.45">Mer. (181)</text>
<circle cx="554.2" cy="739.15" r="8.2" fill="#287C8E"/>
<text class="t14b" x="570.6" y="744.40">Mer. (384)</text>
<circle cx="554.2" cy="759.10" r="8.2" fill="#21908C"/>
<text class="t14b" x="570.6" y="764.35">P. noir (828)</text>
<circle cx="554.2" cy="779.05" r="8.2" fill="#20A486"/>
<text class="t14b" x="570.6" y="784.30">P. noir (89)</text>
<circle cx="554.2" cy="799.00" r="8.2" fill="#35B779"/>
<text class="t14b" x="570.6" y="804.25">Ries. (171)</text>
<circle cx="554.2" cy="818.95" r="8.2" fill="#5DC863"/>
<text class="t14b" x="570.6" y="824.20">Ries. (23)</text>
<circle cx="554.2" cy="838.90" r="8.2" fill="#8FD744"/>
<text class="t14b" x="570.6" y="844.15">S. blanc (906)</text>
<circle cx="554.2" cy="858.70" r="8.2" fill="#C7E020"/>
<text class="t14b" x="571.5" y="864.30">Viog.  (642)</text>
<circle cx="554.2" cy="879.05" r="8.2" fill="#FDE725"/>
<text class="t14b" x="571.1" y="885.70">Wild relative</text>
<text x="572" y="902.5" font-size="13.6" font-style="italic">V. riparia</text>
<text x="623.3" y="495.6" font-size="22.5" stroke="#000" stroke-width="0.75" stroke-linejoin="round">B</text>
<text x="1.5" y="507.8" font-size="16.2">Most negative <tspan class="pib" font-size="15.6" dx="0.4">π</tspan><tspan font-size="9.6" fill="#333" dy="5.3" dx="-0.8">TLP</tspan></text>
<text x="1.5" y="527.2" font-size="16.2">based on pressure-</text>
<text x="1.5" y="546.6" font-size="16.2">volume curves</text>
<text x="1.5" y="966.7" font-size="16.2">Least negative <tspan class="pib" font-size="15.6" dx="0.4">π</tspan><tspan font-size="10.3" fill="#2a2a2a" dy="5.3" dx="-1.3">TLP</tspan></text>
<text x="1.5" y="986.1" font-size="16.2">based on pressure-</text>
<text x="1.5" y="1005.5" font-size="16.2">volume curves</text>
<text x="534.8" y="515.6" font-size="16.1">Most negative <tspan class="pib" font-size="15.6" dx="0.4">π</tspan><tspan font-size="9.3" fill="#777" dy="5.3" dx="-0.6">TLP</tspan></text>
<text x="534.8" y="535.0" font-size="16.1">based on dewpoint</text>
<text x="534.8" y="554.4" font-size="16.1">hygrometer</text>
<text x="534.8" y="974.0" font-size="16.1">Least negative <tspan class="pib" font-size="16.6" dx="0.4">π</tspan><tspan font-size="9.6" fill="#333" dy="5.6" dx="-0.6">TLP</tspan></text>
<text x="534.8" y="993.4" font-size="16.1">based on dewpoint</text>
<text x="534.8" y="1012.8" font-size="16.1">hygrometer</text>
<path d="M683 697.6H685M683 702.4H685" stroke="#dcdcdc" stroke-width="1" fill="none"/>
</g>
</svg></body></html>
